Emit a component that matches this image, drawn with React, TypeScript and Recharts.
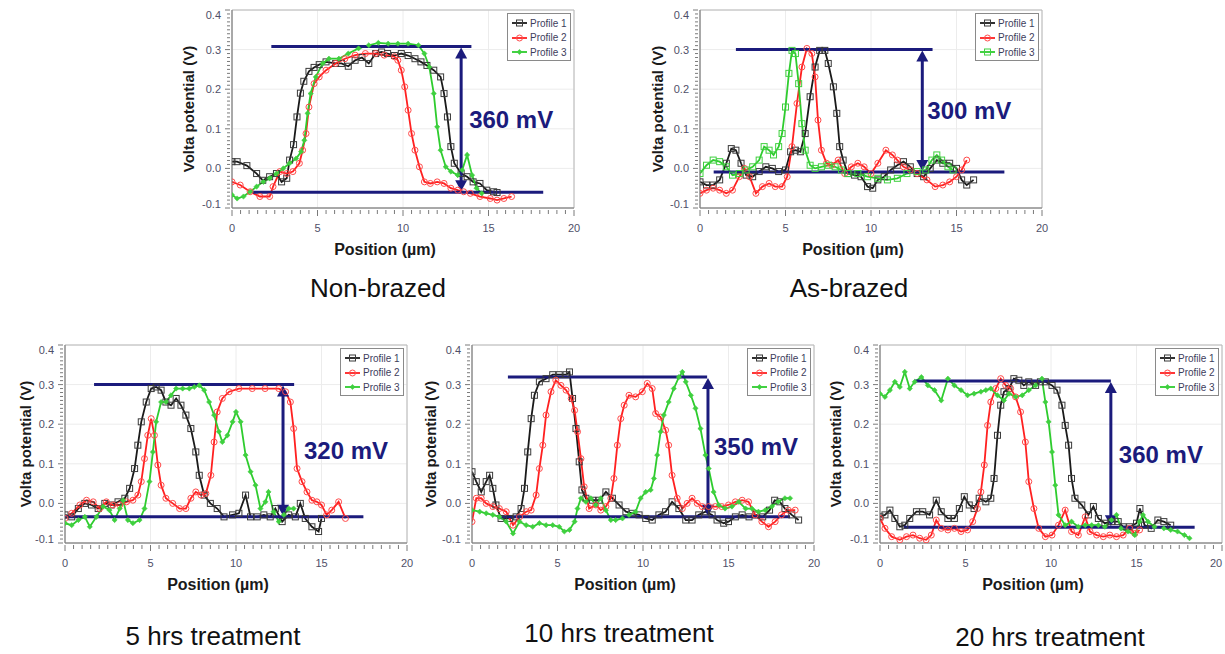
import React from 'react';
import {
  LineChart,
  Line,
  XAxis,
  YAxis,
  CartesianGrid,
  ReferenceLine,
  ReferenceArea,
  Legend,
} from 'recharts';

type Pt = [number, number];

// axis ticks
const X_MAJOR = [0, 5, 10, 15, 20];
const Y_MAJOR = [-0.1, 0, 0.1, 0.2, 0.3, 0.4];
const X_MINOR = Array.from({ length: 41 }, (_, i) => i * 0.5);
const Y_MINOR = Array.from({ length: 51 }, (_, i) => (i - 10) / 100);

const PROFILE_NAMES = ['Profile 1', 'Profile 2', 'Profile 3'];

// ---- Non-brazed ----
const nonBrazedP1: Pt[] = [
  [0, 0.017], [0.3, 0.017], [0.87, 0.007], [1.44, -0.013], [1.8, -0.03], [2.2, -0.021],
  [2.6, -0.013], [2.9, -0.034], [3.2, -0.025], [3.37, 0.021], [3.6, 0.06], [3.8, 0.13],
  [4.0, 0.19], [4.2, 0.22], [4.5, 0.245], [4.8, 0.255], [5.1, 0.262], [5.5, 0.269],
  [6.06, 0.265], [6.4, 0.265], [6.8, 0.258], [7.2, 0.273], [7.6, 0.28], [8.0, 0.265],
  [8.4, 0.29], [8.75, 0.294], [9.1, 0.29], [9.5, 0.285], [9.9, 0.29], [10.3, 0.285],
  [10.7, 0.277], [11.05, 0.269], [11.4, 0.26], [11.8, 0.248], [12.2, 0.231], [12.4, 0.189],
  [12.6, 0.13], [12.8, 0.055], [13.0, 0.013], [13.4, -0.013], [13.75, -0.021], [14.1, -0.034],
  [14.5, -0.038], [14.9, -0.055], [15.3, -0.059], [15.5, -0.061],
];
const nonBrazedP2: Pt[] = [
  [0, -0.034], [0.48, -0.042], [1.06, -0.059], [1.63, -0.071], [2.2, -0.071], [2.4, -0.046],
  [2.8, -0.008], [3.2, -0.013], [3.56, -0.008], [3.94, 0.013], [4.13, 0.046], [4.33, 0.088],
  [4.5, 0.155], [4.8, 0.214], [5.1, 0.231], [5.5, 0.248], [6.06, 0.265], [6.6, 0.277],
  [7.2, 0.286], [7.8, 0.29], [8.4, 0.29], [8.9, 0.286], [9.5, 0.282], [9.7, 0.273],
  [9.9, 0.248], [10.1, 0.206], [10.3, 0.147], [10.5, 0.088], [10.7, 0.046], [10.96, 0.004],
  [11.25, -0.034], [11.6, -0.038], [12.0, -0.034], [12.4, -0.038], [12.8, -0.05], [13.2, -0.055],
  [13.55, -0.059], [13.94, -0.063], [14.5, -0.071], [15.1, -0.076], [15.5, -0.08], [15.9, -0.076],
  [16.35, -0.071],
];
const nonBrazedP3: Pt[] = [
  [0, -0.067], [0.3, -0.076], [0.67, -0.071], [1.06, -0.059], [1.44, -0.046], [1.83, -0.034],
  [2.2, -0.025], [2.6, -0.013], [3.0, 0], [3.37, 0.013], [3.75, 0.025], [4.04, 0.042],
  [4.23, 0.071], [4.42, 0.139], [4.6, 0.189], [4.9, 0.231], [5.3, 0.265], [5.67, 0.277],
  [6.25, 0.277], [6.8, 0.29], [7.4, 0.303], [8.0, 0.311], [8.56, 0.317], [9.13, 0.315],
  [9.7, 0.315], [10.3, 0.315], [10.9, 0.311], [11.25, 0.29], [11.54, 0.256], [11.8, 0.189],
  [12.0, 0.105], [12.2, 0.046], [12.5, 0.004], [12.8, -0.008], [13.2, -0.017], [13.46, -0.004],
  [13.75, 0.034], [14.04, -0.017], [14.3, -0.05], [14.6, -0.063],
];

// ---- As-brazed ----
const asBrazedP1: Pt[] = [
  [0, -0.034], [0.38, -0.042], [0.77, -0.042], [1.15, -0.029], [1.54, 0.013], [1.83, 0.05],
  [2.1, 0.046], [2.4, 0.013], [2.7, -0.017], [3.08, -0.021], [3.46, -0.008], [3.85, 0.004],
  [4.23, 0], [4.6, -0.008], [5.0, -0.004], [5.3, 0.042], [5.58, 0.046], [5.87, 0.042],
  [6.15, 0.088], [6.44, 0.181], [6.73, 0.256], [7.0, 0.298], [7.3, 0.298], [7.5, 0.265],
  [7.8, 0.206], [8.0, 0.139], [8.17, 0.055], [8.37, 0.021], [8.65, -0.013], [9.04, -0.017],
  [9.42, -0.021], [9.8, -0.046], [10.1, -0.05], [10.4, -0.029], [10.77, -0.021], [11.15, -0.004],
  [11.54, 0.008], [11.9, 0.017], [12.3, 0.004], [12.7, -0.013], [13.08, -0.021], [13.46, 0],
  [13.85, 0.021], [14.2, 0.013], [14.6, 0.013], [15.0, 0], [15.3, -0.029], [15.6, -0.042],
  [16.0, -0.029],
];
const asBrazedP2: Pt[] = [
  [0, -0.063], [0.38, -0.055], [0.77, -0.05], [1.15, -0.055], [1.54, -0.063], [1.9, -0.055],
  [2.3, -0.021], [2.6, 0], [2.9, -0.021], [3.27, -0.063], [3.65, -0.046], [4.04, -0.038],
  [4.4, -0.046], [4.8, -0.046], [5.1, -0.021], [5.38, 0.055], [5.67, 0.164], [5.96, 0.256],
  [6.25, 0.303], [6.54, 0.29], [6.73, 0.231], [6.9, 0.122], [7.1, 0.046], [7.4, 0.013],
  [7.7, 0.008], [8.08, 0.021], [8.46, -0.013], [8.85, 0.004], [9.23, 0.013], [9.6, 0.004],
  [10.0, -0.013], [10.4, 0.013], [10.87, 0.046], [11.25, 0.034], [11.54, 0.021], [11.9, 0.004],
  [12.3, -0.004], [12.7, -0.013], [13.27, -0.029], [13.75, -0.046], [14.2, -0.042], [14.6, -0.034],
  [15.0, -0.021], [15.3, -0.004], [15.6, 0.021],
];
const asBrazedP3: Pt[] = [
  [0, -0.013], [0.38, 0.008], [0.77, 0.021], [1.15, 0.017], [1.54, 0.004], [1.9, -0.017],
  [2.3, -0.013], [2.7, -0.004], [3.08, 0.004], [3.46, 0.021], [3.75, 0.055], [4.04, 0.046],
  [4.3, 0.034], [4.6, 0.055], [4.8, 0.088], [5.0, 0.155], [5.2, 0.24], [5.38, 0.298],
  [5.58, 0.29], [5.77, 0.214], [5.96, 0.113], [6.15, 0.046], [6.44, 0.008], [6.73, 0],
  [7.1, 0.004], [7.5, 0.008], [7.9, 0.004], [8.27, -0.004], [8.65, -0.013], [9.23, -0.013],
  [9.8, -0.021], [10.4, -0.025], [10.96, -0.029], [11.54, -0.025], [12.1, -0.013], [12.7, -0.008],
  [13.2, -0.004], [13.56, 0.021], [13.85, 0.034], [14.13, 0.021], [14.5, 0.004], [14.8, -0.004],
];

// ---- 5 hrs treatment ----
const h5P1: Pt[] = [
  [0, -0.029], [0.39, -0.034], [0.78, -0.013], [1.16, 0], [1.55, -0.004], [1.94, -0.013],
  [2.33, 0], [2.7, -0.004], [3.1, 0.004], [3.5, 0.013], [3.78, 0.038], [4.07, 0.088],
  [4.26, 0.147], [4.46, 0.206], [4.75, 0.256], [5.04, 0.29], [5.33, 0.294], [5.62, 0.286],
  [5.9, 0.256], [6.2, 0.248], [6.5, 0.265], [6.78, 0.248], [7.07, 0.223], [7.36, 0.189],
  [7.65, 0.13], [7.85, 0.071], [8.14, 0.021], [8.5, 0], [8.9, -0.013], [9.3, -0.034],
  [9.8, -0.029], [10.17, -0.025], [10.56, 0.021], [10.85, -0.034], [11.24, -0.034], [11.63, -0.029],
  [12.0, -0.034], [12.3, -0.013], [12.7, -0.046], [13.08, -0.029], [13.47, -0.034], [13.76, 0],
  [14.05, -0.038], [14.44, -0.059], [14.83, -0.071], [15.0, -0.038],
];
const h5P2: Pt[] = [
  [0, -0.038], [0.39, -0.025], [0.87, -0.004], [1.26, 0.008], [1.65, 0.004], [2.03, -0.013],
  [2.42, 0.004], [2.8, -0.004], [3.2, -0.004], [3.6, 0.004], [3.97, 0.008], [4.26, 0.021],
  [4.46, 0.055], [4.65, 0.113], [4.84, 0.172], [5.04, 0.214], [5.23, 0.172], [5.43, 0.097],
  [5.62, 0.046], [5.9, 0.013], [6.3, 0], [6.7, -0.013], [7.07, -0.013], [7.36, 0.013],
  [7.65, 0.029], [7.95, 0.021], [8.24, 0.025], [8.53, 0.071], [8.72, 0.155], [8.9, 0.231],
  [9.2, 0.265], [9.6, 0.282], [10.17, 0.29], [10.95, 0.29], [11.7, 0.29], [12.5, 0.29],
  [12.9, 0.282], [13.18, 0.256], [13.37, 0.189], [13.57, 0.088], [13.86, 0.055], [14.15, 0.029],
  [14.44, 0.008], [14.73, 0.004], [15.0, -0.004], [15.3, -0.029], [15.6, -0.017], [16.0, 0.004],
  [16.4, -0.038],
];
const h5P3: Pt[] = [
  [0, -0.05], [0.39, -0.055], [0.78, -0.042], [1.16, -0.034], [1.45, -0.059], [1.84, -0.034],
  [2.23, -0.008], [2.6, -0.017], [2.9, -0.042], [3.2, -0.013], [3.4, 0.008], [3.68, -0.042],
  [3.97, -0.05], [4.36, -0.042], [4.65, -0.013], [4.94, 0.055], [5.14, 0.13], [5.33, 0.206],
  [5.62, 0.256], [5.9, 0.256], [6.2, 0.273], [6.5, 0.29], [6.88, 0.29], [7.27, 0.29],
  [7.56, 0.294], [7.85, 0.298], [8.14, 0.286], [8.43, 0.256], [8.72, 0.223], [9.0, 0.181],
  [9.2, 0.155], [9.5, 0.172], [9.8, 0.206], [10.0, 0.231], [10.27, 0.206], [10.56, 0.122],
  [10.85, 0.08], [11.14, 0.046], [11.43, -0.013], [11.72, 0.004], [11.9, 0.029], [12.2, -0.021],
  [12.5, -0.046], [12.8, -0.029], [13.08, -0.013], [13.37, -0.013],
];

// ---- 10 hrs treatment ----
const h10P1: Pt[] = [
  [0, 0.08], [0.25, 0.055], [0.54, 0.029], [0.83, 0.055], [1.03, 0.071], [1.22, 0.038],
  [1.4, -0.004], [1.7, -0.038], [2.2, -0.038], [2.58, -0.034], [2.87, -0.013], [3.07, 0.038],
  [3.26, 0.13], [3.46, 0.214], [3.65, 0.273], [3.94, 0.307], [4.33, 0.315], [4.72, 0.325],
  [5.1, 0.325], [5.5, 0.325], [5.7, 0.332], [5.88, 0.265], [6.08, 0.189], [6.27, 0.105],
  [6.43, 0.034], [6.66, 0.013], [7.05, 0.008], [7.44, 0.008], [7.83, 0.029], [8.21, 0.013],
  [8.6, -0.004], [9.0, -0.021], [9.38, -0.025], [9.77, -0.029], [10.16, -0.038], [10.54, -0.042],
  [10.93, -0.029], [11.32, -0.021], [11.7, 0.004], [12.1, -0.013], [12.5, -0.042], [12.87, -0.042],
  [13.26, -0.029], [13.65, -0.021], [14.04, -0.029], [14.33, -0.042], [14.72, -0.05], [15.0, -0.046],
  [15.4, -0.034], [15.8, -0.029], [16.2, -0.034], [16.6, -0.029], [17.0, -0.034], [17.4, -0.017],
  [17.7, 0.008], [18.0, 0.004], [18.3, -0.013], [18.7, -0.029], [19.1, -0.042],
];
const h10P2: Pt[] = [
  [0, -0.046], [0.25, 0.013], [0.54, 0.013], [0.83, 0], [1.22, -0.008], [1.6, -0.013],
  [2.0, -0.021], [2.4, -0.055], [2.78, -0.034], [3.17, -0.021], [3.46, -0.017], [3.75, 0.021],
  [3.94, 0.088], [4.14, 0.147], [4.33, 0.223], [4.62, 0.282], [4.9, 0.311], [5.2, 0.298],
  [5.5, 0.286], [5.8, 0.265], [6.0, 0.235], [6.17, 0.181], [6.37, 0.113], [6.56, 0.042],
  [6.85, -0.013], [7.24, -0.004], [7.53, -0.017], [7.83, -0.008], [8.12, 0.013], [8.3, 0.063],
  [8.5, 0.147], [8.7, 0.214], [8.9, 0.248], [9.18, 0.273], [9.57, 0.269], [9.96, 0.282],
  [10.25, 0.303], [10.54, 0.29], [10.74, 0.227], [11.03, 0.218], [11.32, 0.185], [11.5, 0.147],
  [11.7, 0.071], [12.0, 0.013], [12.3, -0.013], [12.58, 0], [12.87, 0.013], [13.17, 0],
  [13.46, -0.008], [13.84, -0.008], [14.23, -0.008], [14.6, -0.008], [15.0, -0.004], [15.4, 0.004],
  [15.8, 0.008], [16.17, 0.004], [16.56, -0.029], [16.95, -0.046], [17.34, -0.059], [17.73, -0.046],
  [18.1, -0.029], [18.5, -0.017], [18.9, -0.017],
];
const h10P3: Pt[] = [
  [0, -0.017], [0.45, -0.021], [0.83, -0.025], [1.22, -0.029], [1.6, -0.034], [2.0, -0.046],
  [2.4, -0.076], [2.78, -0.046], [3.17, -0.055], [3.55, -0.059], [3.94, -0.05], [4.33, -0.055],
  [4.72, -0.055], [5.1, -0.059], [5.4, -0.071], [5.7, -0.067], [6.0, -0.046], [6.17, -0.013],
  [6.37, 0.013], [6.66, 0.004], [6.95, 0.013], [7.24, -0.004], [7.53, 0.013], [7.83, -0.017],
  [8.12, -0.042], [8.4, -0.042], [8.8, -0.038], [9.18, -0.029], [9.57, -0.021], [9.86, 0.013],
  [10.16, 0.029], [10.45, 0.034], [10.64, 0.063], [10.83, 0.122], [11.03, 0.181], [11.22, 0.223],
  [11.5, 0.256], [11.8, 0.29], [12.1, 0.319], [12.3, 0.332], [12.5, 0.307], [12.8, 0.273],
  [13.07, 0.24], [13.36, 0.189], [13.65, 0.122], [13.84, 0.088], [14.13, 0.029], [14.43, -0.004],
  [14.8, -0.013], [15.2, -0.008], [15.6, 0.004], [16.0, -0.013], [16.37, -0.013], [16.75, -0.021],
  [17.15, -0.017], [17.53, -0.008], [17.9, 0.004], [18.3, 0.013], [18.6, 0.013],
];

// ---- 20 hrs treatment ----
const h20P1: Pt[] = [
  [0, -0.034], [0.29, -0.029], [0.58, -0.017], [0.87, -0.038], [1.16, -0.059], [1.45, -0.055],
  [1.74, -0.038], [2.13, -0.021], [2.5, -0.021], [2.9, -0.029], [3.29, 0.008], [3.58, -0.021],
  [3.97, -0.038], [4.35, -0.038], [4.64, -0.013], [4.93, 0.017], [5.22, -0.004], [5.5, -0.013],
  [5.8, 0.013], [6.19, 0.004], [6.48, 0.013], [6.67, 0.063], [6.87, 0.172], [7.06, 0.248],
  [7.25, 0.282], [7.54, 0.29], [7.83, 0.315], [8.12, 0.311], [8.41, 0.298], [8.7, 0.307],
  [9.1, 0.298], [9.38, 0.307], [9.67, 0.307], [10.06, 0.298], [10.35, 0.286], [10.64, 0.248],
  [10.83, 0.197], [11.03, 0.147], [11.2, 0.063], [11.4, 0.013], [11.8, -0.004], [12.19, -0.029],
  [12.48, -0.008], [12.77, -0.038], [13.15, -0.05], [13.54, -0.046], [13.93, -0.046], [14.22, -0.059],
  [14.6, -0.059], [15.0, -0.05], [15.2, -0.013], [15.47, -0.055], [15.86, -0.063], [16.25, -0.042],
  [16.6, -0.046], [17.0, -0.055],
];
const h20P2: Pt[] = [
  [0, -0.038], [0.29, -0.063], [0.68, -0.084], [1.16, -0.092], [1.55, -0.084], [1.93, -0.08],
  [2.32, -0.088], [2.7, -0.092], [3.0, -0.08], [3.29, -0.042], [3.58, -0.063], [3.97, -0.067],
  [4.35, -0.063], [4.74, -0.071], [5.12, -0.067], [5.42, -0.046], [5.7, -0.013], [5.9, 0.029],
  [6.1, 0.097], [6.29, 0.197], [6.48, 0.256], [6.77, 0.29], [7.06, 0.315], [7.35, 0.298],
  [7.64, 0.29], [7.93, 0.269], [8.22, 0.231], [8.5, 0.155], [8.7, 0.055], [9.0, -0.013],
  [9.28, -0.063], [9.67, -0.084], [10.06, -0.08], [10.44, -0.055], [10.83, -0.017], [11.2, -0.071],
  [11.6, -0.08], [12.0, -0.034], [12.28, -0.071], [12.67, -0.08], [13.06, -0.084], [13.44, -0.08],
  [13.83, -0.084], [14.22, -0.08], [14.6, -0.063], [14.9, -0.076], [15.18, -0.067],
];
const h20P3: Pt[] = [
  [0, 0.277], [0.29, 0.269], [0.58, 0.286], [0.87, 0.307], [1.16, 0.294], [1.45, 0.332],
  [1.74, 0.29], [2.03, 0.307], [2.42, 0.319], [2.8, 0.298], [3.19, 0.286], [3.58, 0.26],
  [3.97, 0.315], [4.35, 0.298], [4.74, 0.286], [5.12, 0.273], [5.5, 0.277], [5.9, 0.282],
  [6.19, 0.286], [6.48, 0.29], [6.87, 0.273], [7.25, 0.26], [7.54, 0.277], [7.93, 0.269],
  [8.32, 0.273], [8.7, 0.286], [9.1, 0.298], [9.47, 0.315], [9.67, 0.256], [9.86, 0.206],
  [10.06, 0.13], [10.25, 0.046], [10.44, -0.029], [10.83, -0.055], [11.2, -0.046], [11.6, -0.059],
  [12.0, -0.055], [12.38, -0.055], [12.77, -0.055], [13.15, -0.059], [13.54, -0.042], [13.83, -0.029],
  [14.1, -0.063], [14.5, -0.071], [14.9, -0.08], [15.18, -0.046], [15.38, -0.029], [15.67, -0.046],
  [16.05, -0.059], [16.6, -0.063], [17.0, -0.067], [17.4, -0.071], [17.8, -0.08], [18.1, -0.088],
];

// annotation marks: [xStart, xEnd, level]
const nonBrazedTop = [2.3, 14.0, 0.308];
const nonBrazedBase = [1.2, 18.2, -0.06];
const asBrazedTop = [2.1, 13.6, 0.3];
const asBrazedBase = [0.8, 17.8, -0.009];
const h5Top = [1.7, 13.4, 0.3];
const h5Base = [0.0, 17.45, -0.034];
const h10Top = [2.1, 13.75, 0.319];
const h10Base = [1.5, 18.6, -0.034];
const h20Top = [2.0, 13.5, 0.309];
const h20Base = [1.4, 18.4, -0.06];

const arrowX = [13.4, 13.0, 12.75, 13.8, 13.5];
const arrowText = ['360 mV', '300 mV', '320 mV', '350 mV', '360 mV'];
const titles = ['Non-brazed', 'As-brazed', '5 hrs treatment', '10 hrs treatment', '20 hrs treatment'];

const NAVY = '#1b1b7c';
const COLORS = ['#1a1a1a', '#ff2020', '#2ecc2e'];
const FONT = '"Liberation Sans", Arial, sans-serif';
const TICK_COLOR = '#4f4f68';

const PLOT_W = 342;
const PLOT_H = 198;
const Y_AXIS_W = 62;
const X_AXIS_H = 55;
const M_TOP = 6;
const M_RIGHT = 12;

type Kind = 'square' | 'circle' | 'diamond';

function Marker({ kind, cx, cy, color }: { kind: Kind; cx: number; cy: number; color: string }) {
  if (kind === 'square') {
    return <rect x={cx - 3} y={cy - 3} width={6} height={6} fill="none" stroke={color} strokeWidth={1} />;
  }
  if (kind === 'circle') {
    return <circle cx={cx} cy={cy} r={3} fill="none" stroke={color} strokeWidth={1} />;
  }
  return (
    <path
      d={`M${cx},${cy - 2.6}L${cx + 2.6},${cy}L${cx},${cy + 2.6}L${cx - 2.6},${cy}Z`}
      fill={color}
      stroke={color}
      strokeWidth={0.6}
    />
  );
}

const markerColor = (i: number) => (i === 0 ? '#3a3a3a' : i === 1 ? '#ff4a4a' : '#3fd03f');

const isMajor = (v: number, step: number) => Math.abs(v / step - Math.round(v / step)) < 1e-6;

function XTick(props: any) {
  const { x, y, payload, lastShift } = props;
  const v = payload.value;
  const major = isMajor(v, 5);
  return (
    <g>
      <line x1={x} y1={y} x2={x} y2={y + (major ? 6 : 4)} stroke="#7a7a7a" />
      {major && (
        <text
          x={x - (v === 20 ? lastShift : 0)}
          y={y + 22}
          textAnchor="middle"
          fontSize={11}
          fontFamily={FONT}
          fill={TICK_COLOR}
        >
          {v}
        </text>
      )}
    </g>
  );
}

function YTick(props: any) {
  const { x, y, payload } = props;
  const v = payload.value;
  const major = isMajor(v, 0.1);
  let shift = 0;
  if (Math.abs(v - 0.4) < 1e-6) shift = 5;
  if (Math.abs(v + 0.1) < 1e-6) shift = -4;
  return (
    <g>
      <line x1={x - (major ? 5 : 3)} y1={y} x2={x} y2={y} stroke="#7a7a7a" />
      {major && (
        <text
          x={x - 9}
          y={y + shift}
          textAnchor="end"
          dominantBaseline="central"
          fontSize={11}
          fontFamily={FONT}
          fill={TICK_COLOR}
        >
          {v.toFixed(1)}
        </text>
      )}
    </g>
  );
}

function XTitle(props: any) {
  const vb = props.viewBox || { x: Y_AXIS_W, y: M_TOP + PLOT_H, width: PLOT_W, height: X_AXIS_H };
  return (
    <text
      x={vb.x + vb.width / 2 - 18}
      y={vb.y + 41}
      textAnchor="middle"
      dominantBaseline="central"
      fontSize={16}
      fontWeight="bold"
      fontFamily={FONT}
      fill="#1a1a1a"
    >
      Position (µm)
    </text>
  );
}

function YTitle(props: any) {
  const vb = props.viewBox || { x: 0, y: M_TOP, width: Y_AXIS_W, height: PLOT_H };
  const cx = vb.x + vb.width - props.gap;
  const cy = vb.y + vb.height / 2;
  return (
    <text
      x={cx}
      y={cy}
      transform={`rotate(-90 ${cx} ${cy})`}
      textAnchor="middle"
      dominantBaseline="central"
      fontSize={15}
      fontWeight="bold"
      fontFamily={FONT}
      fill="#1a1a1a"
    >
      Volta potential (V)
    </text>
  );
}

function ArrowShape(props: any) {
  const { x1, y1, y2, text, dx } = props;
  const top = Math.min(y1, y2);
  const bot = Math.max(y1, y2);
  const x = x1;
  const head = 12;
  const half = 6;
  return (
    <g>
      <line x1={x} y1={top + head - 1} x2={x} y2={bot - head + 1} stroke={NAVY} strokeWidth={3} />
      <polygon points={`${x},${top + 1} ${x - half},${top + head} ${x + half},${top + head}`} fill={NAVY} />
      <polygon points={`${x},${bot - 1} ${x - half},${bot - head} ${x + half},${bot - head}`} fill={NAVY} />
      <text
        x={x + dx}
        y={(top + bot) / 2}
        dominantBaseline="central"
        fontSize={24}
        fontWeight="bold"
        fontFamily={FONT}
        fill={NAVY}
      >
        {text}
      </text>
    </g>
  );
}

function LegendBox({ kinds }: { kinds: Kind[] }) {
  return (
    <div
      style={{
        border: '1px solid #8a8a8a',
        background: '#fff',
        padding: '2px 0 2px 3px',
        fontFamily: FONT,
        fontSize: 10,
        color: '#3d3d5c',
        boxSizing: 'border-box',
        height: 48,
      }}
    >
      {PROFILE_NAMES.map((name, i) => (
        <div key={name} style={{ display: 'flex', alignItems: 'center', height: 14.5 }}>
          <svg width={17} height={10} style={{ marginRight: 2 }}>
            <line x1={1} y1={5} x2={16} y2={5} stroke={COLORS[i]} strokeWidth={1.8} />
            <Marker kind={kinds[i]} cx={8.5} cy={5} color={markerColor(i)} />
          </svg>
          <span>{name}</span>
        </div>
      ))}
    </div>
  );
}

interface PanelCfg {
  series: Pt[][];
  kinds: Kind[];
  top: number[];
  base: number[];
  idx: number;
  plotLeft: number;
  plotTop: number;
  yGap: number;
  arrowDx: number;
  lastShift: number;
}

function Panel({ cfg }: { cfg: PanelCfg }) {
  const W = Y_AXIS_W + PLOT_W + M_RIGHT;
  const H = M_TOP + PLOT_H + X_AXIS_H;
  const [tx1, tx2, tl] = cfg.top;
  const [bx1, bx2, bl] = cfg.base;
  return (
    <div style={{ position: 'absolute', left: cfg.plotLeft - Y_AXIS_W, top: cfg.plotTop - M_TOP }}>
      <LineChart width={W} height={H} margin={{ top: M_TOP, right: M_RIGHT, bottom: 0, left: 0 }}>
        <CartesianGrid horizontalValues={Y_MAJOR} verticalValues={X_MAJOR} stroke="#ececec" />
        <ReferenceArea x1={0} x2={20} y1={-0.1} y2={0.4} fill="none" stroke="#b8b8b8" />
        <XAxis
          type="number"
          dataKey="x"
          domain={[0, 20]}
          ticks={X_MINOR}
          interval={0}
          tickSize={0}
          tickLine={false}
          axisLine={{ stroke: '#7a7a7a' }}
          height={X_AXIS_H}
          tick={<XTick lastShift={cfg.lastShift} />}
          label={<XTitle />}
          allowDataOverflow
        />
        <YAxis
          type="number"
          domain={[-0.1, 0.4]}
          ticks={Y_MINOR}
          interval={0}
          tickSize={0}
          tickLine={false}
          axisLine={{ stroke: '#7a7a7a' }}
          width={Y_AXIS_W}
          tick={<YTick />}
          label={<YTitle gap={cfg.yGap} />}
          allowDataOverflow
        />
        {cfg.series.map((pts, i) => (
          <Line
            key={PROFILE_NAMES[i]}
            name={PROFILE_NAMES[i]}
            data={pts.map(([x, y]) => ({ x, y }))}
            dataKey="y"
            type="linear"
            stroke={COLORS[i]}
            strokeWidth={1.8}
            dot={(p: any) => (
              <Marker key={`d${i}-${p.index}`} kind={cfg.kinds[i]} cx={p.cx} cy={p.cy} color={markerColor(i)} />
            )}
            activeDot={false}
            isAnimationActive={false}
          />
        ))}
        <ReferenceLine
          segment={[{ x: tx1, y: tl }, { x: tx2, y: tl }]}
          stroke={NAVY}
          strokeWidth={3}
        />
        <ReferenceLine
          segment={[{ x: bx1, y: bl }, { x: bx2, y: bl }]}
          stroke={NAVY}
          strokeWidth={3}
        />
        <ReferenceLine
          segment={[{ x: arrowX[cfg.idx], y: tl }, { x: arrowX[cfg.idx], y: bl }]}
          shape={(p: any) => <ArrowShape {...p} text={arrowText[cfg.idx]} dx={cfg.arrowDx} />}
        />
        <Legend
          layout="horizontal"
          verticalAlign="middle"
          align="center"
          wrapperStyle={{ left: Y_AXIS_W + PLOT_W - 67, top: M_TOP + 3, width: 64, height: 48 }}
          content={() => <LegendBox kinds={cfg.kinds} />}
        />
      </LineChart>
    </div>
  );
}

const PANELS: PanelCfg[] = [
  {
    series: [nonBrazedP1, nonBrazedP2, nonBrazedP3],
    kinds: ['square', 'circle', 'diamond'],
    top: nonBrazedTop, base: nonBrazedBase, idx: 0,
    plotLeft: 232, plotTop: 10, yGap: 44, arrowDx: 8, lastShift: 0,
  },
  {
    series: [asBrazedP1, asBrazedP2, asBrazedP3],
    kinds: ['square', 'circle', 'square'],
    top: asBrazedTop, base: asBrazedBase, idx: 1,
    plotLeft: 700, plotTop: 10, yGap: 43, arrowDx: 5, lastShift: 0,
  },
  {
    series: [h5P1, h5P2, h5P3],
    kinds: ['square', 'circle', 'diamond'],
    top: h5Top, base: h5Base, idx: 2,
    plotLeft: 65, plotTop: 345, yGap: 40, arrowDx: 21, lastShift: 0,
  },
  {
    series: [h10P1, h10P2, h10P3],
    kinds: ['square', 'circle', 'diamond'],
    top: h10Top, base: h10Base, idx: 3,
    plotLeft: 472, plotTop: 345, yGap: 42, arrowDx: 6, lastShift: 0,
  },
  {
    series: [h20P1, h20P2, h20P3],
    kinds: ['square', 'circle', 'diamond'],
    top: h20Top, base: h20Base, idx: 4,
    plotLeft: 880, plotTop: 345, yGap: 45, arrowDx: 8, lastShift: 6,
  },
];

const TITLE_POS = [
  { cx: 378, top: 275 },
  { cx: 849, top: 275 },
  { cx: 213, top: 623 },
  { cx: 619, top: 620 },
  { cx: 1050, top: 624 },
];

export default function App() {
  return (
    <div
      style={{
        position: 'absolute',
        left: 0,
        top: 0,
        width: 1225,
        height: 654,
        overflow: 'hidden',
        background: '#fff',
        fontFamily: FONT,
      }}
    >
      {PANELS.map((p) => (
        <Panel key={p.idx} cfg={p} />
      ))}
      {titles.map((t, i) => (
        <div
          key={t}
          style={{
            position: 'absolute',
            left: TITLE_POS[i].cx - 150,
            top: TITLE_POS[i].top,
            width: 300,
            textAlign: 'center',
            fontSize: 26,
            lineHeight: '26px',
            color: '#111',
          }}
        >
          {t}
        </div>
      ))}
    </div>
  );
}
